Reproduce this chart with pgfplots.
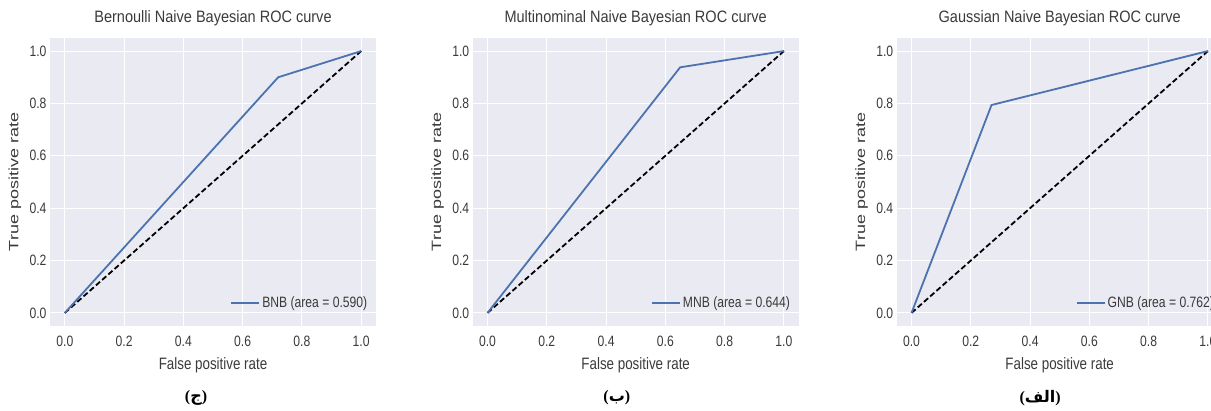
\documentclass[border=0pt]{standalone}
\usepackage{fontspec}
\usepackage{graphicx}
\setmainfont{Liberation Sans}[FakeStretch=0.81]
\newfontfamily\titlefont{Liberation Sans}[FakeStretch=0.88]
\newfontfamily\ylabfont{Liberation Sans}
\newfontfamily\arabicfont[Script=Arabic]{DejaVu Sans}
\newfontfamily\parenfont{Liberation Serif}
\TeXXeTstate=1
\usepackage{pgfplots}
\pgfplotsset{compat=1.18}
\definecolor{bgc}{HTML}{EAEAF2}
\definecolor{sblue}{HTML}{4C72B0}
\definecolor{txt}{HTML}{3A3A3A}
\tikzset{capt/.style={font=\bfseries\fontsize{16}{18}\selectfont}}
\pgfplotsset{
  rocstyle/.style={
    scale only axis, width=326pt, height=288pt,
    anchor=south west,
    xmin=-0.05, xmax=1.05, ymin=-0.05, ymax=1.05,
    axis background/.style={fill=bgc},
    axis line style={draw=none},
    major tick length=0pt,
    xtick={0,0.2,0.4,0.6,0.8,1.0},
    ytick={0,0.2,0.4,0.6,0.8,1.0},
    xticklabels={0.0,0.2,0.4,0.6,0.8,1.0},
    yticklabels={0.0,0.2,0.4,0.6,0.8,1.0},
    grid=major,
    major grid style={white, line width=1.1pt},
    tick label style={font=\fontsize{15}{17}\selectfont, text=txt},
    xticklabel style={yshift=-6pt},
    xlabel style={at={(axis description cs:0.5,-0.1354)}, anchor=center, font=\fontsize{16.5}{19}\selectfont, text=txt},
    ylabel style={at={(axis description cs:-0.1074,0.5)}, anchor=center, text=txt},
    title style={at={(axis description cs:0.5,1.0486)}, anchor=center, font=\titlefont\fontsize{16.5}{19}\selectfont, text=txt},
    xlabel={False positive rate},
    ylabel={\scalebox{1}[0.75]{\ylabfont\fontsize{18}{21}\selectfont True positive rate}},
    clip=false,
    legend style={at={(axis description cs:0.980,0.08)}, anchor=east, draw=none, fill=none,
      inner sep=0pt, font=\fontsize{15}{17}\selectfont, text=txt},
    legend cell align=left,
    legend image code/.code={\draw[#1] (0pt,0pt) -- (28pt,0pt);},
  },
  roc/.style={sblue, line width=1.8pt},
  diag/.style={black, line width=1.8pt, dash pattern=on 5.5pt off 2.8pt, forget plot},
}
\begin{document}
\begin{tikzpicture}
\useasboundingbox (0,0) rectangle (1211pt,411pt);
% Panel (ج)
\begin{axis}[rocstyle, at={(50pt,85pt)}, title={Bernoulli Naive Bayesian ROC curve}]
\addplot[diag] coordinates {(0,0) (1,1)};
\addplot[roc] coordinates {(0,0) (0.72,0.90) (1,1)};
\addlegendentry{BNB (area = 0.590)}
\node[capt] at (axis description cs:0.448,-0.25) {\parenfont(\arabicfont\beginR ج\endR\parenfont)};
\end{axis}
% Panel (ب)
\begin{axis}[rocstyle, at={(472.7pt,85pt)}, title={Multinominal Naive Bayesian ROC curve}]
\addplot[diag] coordinates {(0,0) (1,1)};
\addplot[roc] coordinates {(0,0) (0.65,0.938) (1,1)};
\addlegendentry{MNB (area = 0.644)}
\node[capt] at (axis description cs:0.442,-0.25) {\parenfont(\arabicfont\beginR ب\endR\parenfont)};
\end{axis}
% Panel (الف)
\begin{axis}[rocstyle, at={(896.7pt,85pt)}, title={Gaussian Naive Bayesian ROC curve}]
\addplot[diag] coordinates {(0,0) (1,1)};
\addplot[roc] coordinates {(0,0) (0.27,0.794) (1,1)};
\addlegendentry{GNB (area = 0.762)}
\node[capt] at (axis description cs:0.44,-0.25) {\parenfont(\arabicfont\beginR الف\endR\parenfont)};
\end{axis}
\end{tikzpicture}
\end{document}
